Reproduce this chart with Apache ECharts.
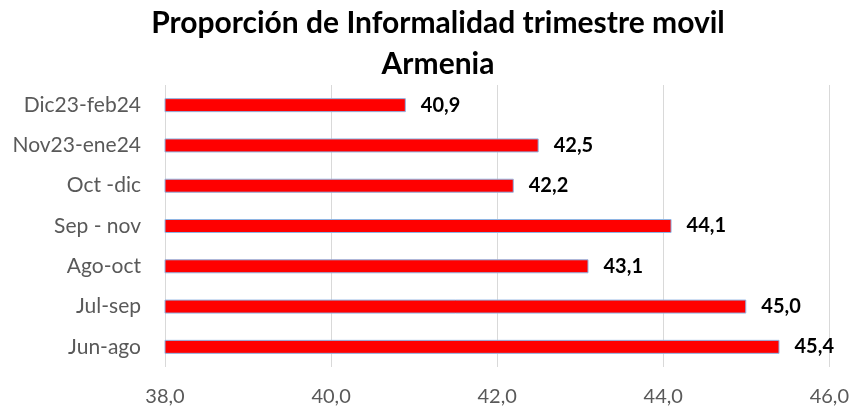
<!DOCTYPE html>
<html>
<head>
<meta charset="utf-8">
<script src="https://cdn.jsdelivr.net/npm/echarts@6/dist/echarts.min.js"></script>
<style>
  html, body { margin: 0; padding: 0; background: #fff; }
  #chart { width: 852px; height: 411px; }
</style>
</head>
<body>
<div id="chart"></div>
<script>
// periodos, de arriba hacia abajo
const categories = ['Dic23-feb24', 'Nov23-ene24', 'Oct -dic', 'Sep - nov', 'Ago-oct', 'Jul-sep', 'Jun-ago']
const values = [40.9, 42.5, 42.2, 44.1, 43.1, 45.0, 45.4]
const axisMin = 38
const axisMax = 46
const axisStep = 2

const fmt = v => Number(v).toFixed(1).replace('.', ',')

const chart = echarts.init(document.getElementById('chart'))
chart.setOption({
  animation: false,
  title: {
    text: 'Proporción de Informalidad trimestre movil\nArmenia',
    left: 438,
    top: 3,
    padding: 0,
    textAlign: 'center',
    textStyle: {
      fontFamily: 'Lato',
      fontWeight: 'bold',
      fontSize: 30,
      lineHeight: 41,
      color: '#000'
    }
  },
  grid: {
    left: 165,
    right: 19,
    top: 85,
    bottom: 44
  },
  xAxis: {
    type: 'value',
    min: axisMin,
    max: axisMax,
    interval: axisStep,
    axisLine: { show: false },
    axisTick: { show: false },
    splitLine: { lineStyle: { color: '#d9d9d9', width: 1 } },
    axisLabel: {
      formatter: fmt,
      color: '#595959',
      fontFamily: 'Lato',
      fontSize: 20,
      margin: 20
    }
  },
  yAxis: {
    type: 'category',
    data: categories,
    inverse: true,
    axisLine: { show: false },
    axisTick: { show: false },
    axisLabel: {
      color: '#595959',
      fontFamily: 'Lato',
      fontSize: 21,
      margin: 24
    }
  },
  series: [{
    type: 'bar',
    data: values,
    barWidth: 14,
    itemStyle: {
      color: '#ff0000',
      borderColor: '#8eb4e3',
      borderWidth: 1
    },
    label: {
      show: true,
      position: 'right',
      distance: 15,
      formatter: p => fmt(p.value),
      color: '#000',
      fontFamily: 'Lato',
      fontWeight: 'bold',
      fontSize: 20
    }
  }]
})
</script>
</body>
</html>
